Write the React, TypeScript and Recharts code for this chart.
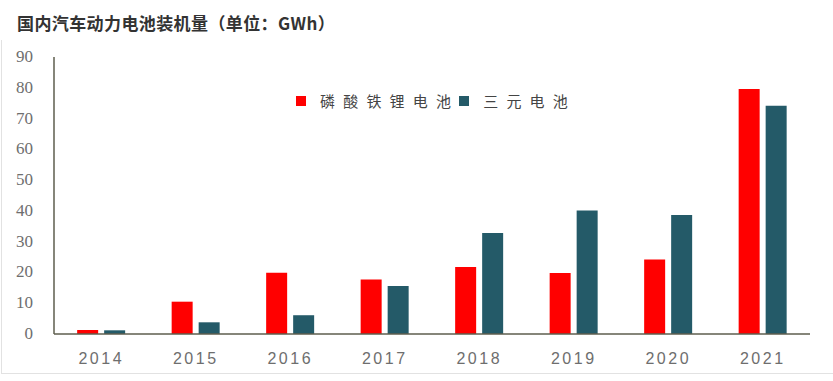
import React from 'react';
import { BarChart, Bar, XAxis, YAxis, Legend } from 'recharts';

// Installed capacity of power batteries, GWh
const years = ['2014', '2015', '2016', '2017', '2018', '2019', '2020', '2021'];
const lfp = [1.3, 10.5, 19.9, 17.7, 21.8, 19.8, 24.2, 79.6];
const ncm = [1.2, 3.8, 6.1, 15.6, 32.8, 40.1, 38.7, 74.2];
const yTicks = [0, 10, 20, 30, 40, 50, 60, 70, 80, 90];

const TITLE = '国内汽车动力电池装机量（单位：GWh）';
const LFP_NAME = '磷酸铁锂电池';
const NCM_NAME = '三元电池';

const COLORS = {
  lfp: '#FF0000',
  ncm: '#245A68',
  axis: '#5E5E4E',
  tick: '#6E6E6E',
  title: '#333333',
  frame: '#e2e2e2'
};

const data = years.map((year, i) => ({ year, lfp: lfp[i], ncm: ncm[i] }));

const legendItems = [
  { name: LFP_NAME, color: COLORS.lfp },
  { name: NCM_NAME, color: COLORS.ncm }
];

const CJK = '"Noto Sans CJK SC", "Noto Sans", sans-serif';

// fixed order legend, same as the original picture
const LegendBox = () => (
  <div style={{ display: 'flex', alignItems: 'center', fontFamily: CJK, fontSize: 15, color: '#444' }}>
    {legendItems.map((item) => (
      <span key={item.name} style={{ display: 'flex', alignItems: 'center' }}>
        <span style={{ width: 10, height: 10, background: item.color, display: 'inline-block', marginRight: 14 }} />
        <span style={{ letterSpacing: 8.2 }}>{item.name}</span>
      </span>
    ))}
  </div>
);

// y ticks are in a serif face in the original
const SerifTick = ({ x, y, payload }: any) => (
  <text
    x={x}
    y={y}
    dy={5}
    textAnchor="end"
    fill={COLORS.tick}
    fontSize={17}
    fontFamily='"Liberation Serif", "DejaVu Serif", serif'
  >
    {payload.value}
  </text>
);

export default function App() {
  return (
    <div style={{ position: 'absolute', left: 0, top: 0, width: 833, height: 381, background: '#fff' }}>
      {/* faint frame of the scanned picture */}
      <div style={{ position: 'absolute', left: 1, top: 40, width: 1, height: 333, background: COLORS.frame }} />
      <div style={{ position: 'absolute', left: 1, top: 373, width: 832, height: 1, background: COLORS.frame }} />
      <div
        style={{
          position: 'absolute',
          left: 17,
          top: 10,
          fontFamily: CJK,
          fontSize: 17,
          fontWeight: 700,
          color: COLORS.title,
          letterSpacing: 0.4,
          whiteSpace: 'nowrap'
        }}
      >
        {TITLE}
      </div>
      <BarChart
        width={833}
        height={381}
        data={data}
        margin={{ top: 57, right: 23, left: 0, bottom: 0 }}
        barCategoryGap="24.5%"
        barGap={6}
      >
        <XAxis
          dataKey="year"
          height={47}
          tickLine={false}
          axisLine={{ stroke: COLORS.axis, strokeWidth: 1.5 }}
          tickMargin={13}
          tick={{ fill: COLORS.tick, fontSize: 16, style: { fontFamily: '"Liberation Sans", sans-serif', letterSpacing: 2.5 } }}
        />
        <YAxis
          width={54}
          domain={[0, 90]}
          ticks={yTicks}
          interval={0}
          tickLine={false}
          axisLine={{ stroke: COLORS.axis, strokeWidth: 1.5 }}
          tickMargin={15}
          tick={<SerifTick />}
        />
        <Legend
          content={<LegendBox />}
          layout="horizontal"
          verticalAlign="middle"
          wrapperStyle={{ position: 'absolute', left: 296, top: 90, width: 'auto', height: 'auto' }}
        />
        <Bar dataKey="lfp" name={LFP_NAME} fill={COLORS.lfp} isAnimationActive={false} />
        <Bar dataKey="ncm" name={NCM_NAME} fill={COLORS.ncm} isAnimationActive={false} />
      </BarChart>
    </div>
  );
}
